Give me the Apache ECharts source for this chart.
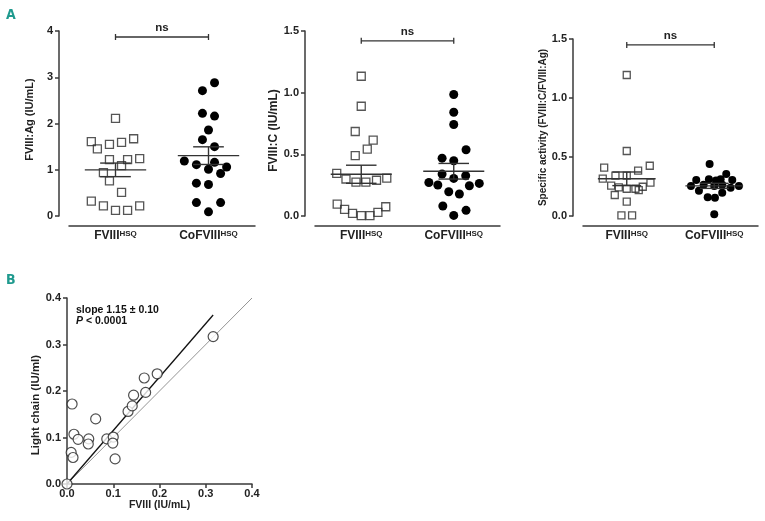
<!DOCTYPE html>
<html><head><meta charset="utf-8">
<script src="https://cdn.jsdelivr.net/npm/echarts@6/dist/echarts.min.js"></script>
<style>html,body{margin:0;padding:0;background:#fff}#c{width:765px;height:521px}</style>
</head><body><div id="c"></div>
<script>
// ---------- data ----------
const groups = ['FVIII', 'CoFVIII'];
const groupSup = 'HSQ';

// Panel A (left): FVIII:Ag (IU/mL)
const agFviii = [2.11,1.61,1.45,1.55,1.59,1.67,1.22,1.22,1.24,1.09,0.94,0.76,0.51,0.32,0.22,0.12,0.12,0.22];
const agFviiiJitter = [0,-0.26,-0.195,-0.065,0.065,0.195,-0.065,0.13,0.26,0.065,-0.13,-0.065,0.065,-0.26,-0.13,0,0.13,0.26];
const agCo = [2.88,2.71,2.22,2.16,1.86,1.65,1.50,1.19,1.11,1.16,1.01,1.06,0.92,0.71,0.68,0.29,0.29,0.09];
const agCoJitter = [0.065,-0.065,-0.065,0.065,0,-0.065,0.065,-0.26,-0.13,0.065,0,0.195,0.13,-0.13,0,-0.13,0.13,0];

// Panel A (middle): FVIII:C (IU/mL)
const cFviii = [1.133,0.89,0.685,0.615,0.542,0.49,0.345,0.30,0.275,0.275,0.29,0.307,0.097,0.054,0.022,0.003,0.003,0.03,0.075];
const cFviiiJitter = [0,0,-0.065,0.129,0.065,-0.065,-0.265,-0.165,-0.057,0.05,0.165,0.276,-0.26,-0.18,-0.094,0,0.094,0.18,0.265];
const cCo = [0.985,0.841,0.742,0.537,0.469,0.448,0.340,0.326,0.305,0.272,0.251,0.264,0.245,0.197,0.178,0.081,0.046,0.005];
const cCoJitter = [0,0,0,0.133,-0.126,0,-0.126,0.129,0,-0.269,-0.172,0.276,0.169,-0.054,0.061,-0.118,0.133,0];

// Panel A (right): Specific activity (FVIII:C/FVIII:Ag)
const saFviii = [1.195,0.551,0.426,0.41,0.384,0.342,0.342,0.316,0.282,0.257,0.248,0.243,0.231,0.231,0.22,0.178,0.121,0.006,0.006];
const saFviiiJitter = [0,0,0.263,-0.258,0.13,-0.129,0,-0.274,0.271,-0.178,0.183,-0.091,0,0.099,0.137,-0.137,0,-0.061,0.061];
const saCo = [0.441,0.356,0.311,0.311,0.305,0.305,0.265,0.265,0.254,0.254,0.254,0.24,0.214,0.197,0.158,0.155,0.014,0.30];
const saCoJitter = [-0.053,0.137,-0.061,0.073,-0.206,0.206,-0.121,0.091,-0.266,0,0.282,0.187,-0.175,0.091,-0.075,0.008,0,0.02];

// Panel B: light chain vs FVIII
const bFviii = [0,0.011,0.009,0.013,0.015,0.024,0.047,0.046,0.062,0.086,0.100,0.099,0.104,0.132,0.141,0.144,0.167,0.170,0.195,0.316];
const bLight = [0,0.172,0.068,0.057,0.107,0.096,0.097,0.086,0.140,0.097,0.101,0.088,0.054,0.156,0.168,0.191,0.228,0.197,0.237,0.317];
const slope = 1.15, slopeErr = 0.10, pText = '< 0.0001';

// ---------- helpers ----------
const FONT = 'Liberation Sans, Arial, Helvetica, sans-serif';
const AX = '#3a3a3a';
function stats(a){const n=a.length;const m=a.reduce((s,v)=>s+v,0)/n;const sd=Math.sqrt(a.reduce((s,v)=>s+(v-m)*(v-m),0)/(n-1));return [m, sd/Math.sqrt(n)];}
function pts(vals, jit, g){return vals.map((v,i)=>[g+jit[i], v]);}

function meanSemRender(params, api){
  const g=api.value(0), m=api.value(1), s=api.value(2);
  const st={stroke:'#333', lineWidth:1.4};
  const L=(p,q)=>({type:'line', shape:{x1:p[0],y1:p[1],x2:q[0],y2:q[1]}, style:st});
  return {type:'group', children:[
    L(api.coord([g-0.33,m]), api.coord([g+0.33,m])),
    L(api.coord([g,m+s]), api.coord([g,m-s])),
    L(api.coord([g-0.165,m+s]), api.coord([g+0.165,m+s])),
    L(api.coord([g-0.165,m-s]), api.coord([g+0.165,m-s]))
  ]};
}
function bracketRender(params, api){
  const y=api.value(2);
  const a=api.coord([api.value(0),y]), b=api.coord([api.value(1),y]);
  const st={stroke:'#333', lineWidth:1.3};
  const L=(p,q)=>({type:'line', shape:{x1:p[0],y1:p[1],x2:q[0],y2:q[1]}, style:st});
  return {type:'group', children:[
    L(a,b), L([a[0],a[1]-3],[a[0],a[1]+3]), L([b[0],b[1]-3],[b[0],b[1]+3]),
    {type:'text', style:{text:'ns', x:(a[0]+b[0])/2, y:a[1]-3, align:'center', verticalAlign:'bottom', fontSize:11.5, fontWeight:'bold', fontFamily:FONT, fill:'#222'}}
  ]};
}
function catAxis(gi){
  return {type:'category', gridIndex:gi, data:groups, offset:10, boundaryGap:true,
    axisLine:{onZero:false, lineStyle:{color:AX,width:1.5}},
    axisTick:{alignWithLabel:true, length:4, lineStyle:{color:AX,width:1.5}},
    axisLabel:{interval:0, hideOverlap:false, margin:4, formatter:v=>'{m|'+v+'}{s|'+groupSup+'}',
      rich:{m:{fontSize:12,fontWeight:'bold',fontFamily:FONT,color:'#222'}, s:{fontSize:8,fontWeight:'bold',fontFamily:FONT,color:'#222',verticalAlign:'top'}}}};
}
function valXAxis(gi){return {type:'value', gridIndex:gi, min:-0.5, max:1.5, show:false, axisLine:{onZero:false}};}
function yAx(gi, max, interval, name, fs, gap, dec, pad){
  return {type:'value', gridIndex:gi, min:0, max:max, interval:interval, offset:gi<3?10:0,
    name:name, nameLocation:'middle', nameGap:gap, nameTextStyle:{fontSize:fs,fontWeight:'bold',fontFamily:FONT,color:'#222',padding:pad||0},
    splitLine:{show:false},
    axisLine:{show:true,onZero:false,lineStyle:{color:AX,width:1.5}},
    axisTick:{show:true,length:4,lineStyle:{color:AX,width:1.5}},
    axisLabel:{fontSize:11,fontWeight:'bold',fontFamily:FONT,color:'#222',margin:6,formatter:v=>v.toFixed(dec)}};
}
function sqSeries(xi, yi, data, size){
  return {type:'scatter', xAxisIndex:xi, yAxisIndex:yi, data:data, symbol:'rect', symbolSize:size,
    itemStyle:{color:'rgba(255,255,255,0)', borderColor:'#2a2a2a', borderWidth:1.3}, z:3};
}
function ciSeries(xi, yi, data, size){
  return {type:'scatter', xAxisIndex:xi, yAxisIndex:yi, data:data, symbol:'circle', symbolSize:size,
    itemStyle:{color:'#000', opacity:1}, z:3};
}
function panelSeries(xi, yi, a, aj, b, bj, size, bracketY){
  const sa=stats(a), sb=stats(b);
  return [
    sqSeries(xi, yi, pts(a,aj,0), size),
    ciSeries(xi, yi, pts(b,bj,1), size+1),
    {type:'custom', xAxisIndex:xi, yAxisIndex:yi, renderItem:meanSemRender, data:[[0,sa[0],sa[1]],[1,sb[0],sb[1]]], z:4, silent:true},
    {type:'custom', xAxisIndex:xi, yAxisIndex:yi, renderItem:bracketRender, data:[[0,1,bracketY]], z:4, silent:true}
  ];
}

const xMaxB = Math.max(...bFviii);
const option = {
  animation:false,
  backgroundColor:'#fff',
  textStyle:{fontFamily:FONT},
  graphic:[
    {type:'text', left:6, top:8, style:{text:'A', fontSize:14, fontWeight:'bold', fontFamily:'DejaVu Sans Condensed, Liberation Sans, sans-serif', fill:'#1f9a8e'}},
    {type:'text', left:6, top:273, style:{text:'B', fontSize:14, fontWeight:'bold', fontFamily:'DejaVu Sans Condensed, Liberation Sans, sans-serif', fill:'#1f9a8e'}}
  ],
  grid:[
    {left:69, top:31, width:186, height:185},
    {left:315, top:31, width:185, height:185},
    {left:583, top:39, width:175, height:177},
    {left:67, top:298, width:185, height:186}
  ],
  xAxis:[
    catAxis(0), valXAxis(0),
    catAxis(1), valXAxis(1),
    catAxis(2), valXAxis(2),
    {type:'value', gridIndex:3, min:0, max:0.4, interval:0.1,
      name:'FVIII (IU/mL)', nameLocation:'middle', nameGap:13, nameTextStyle:{fontSize:10.5,fontWeight:'bold',fontFamily:FONT,color:'#222'},
      splitLine:{show:false}, axisLine:{onZero:false, lineStyle:{color:AX,width:1.5}},
      axisTick:{show:true,length:4,lineStyle:{color:AX,width:1.5}},
      axisLabel:{fontSize:11,fontWeight:'bold',fontFamily:FONT,color:'#222',margin:4,formatter:v=>v.toFixed(1)}}
  ],
  yAxis:[
    yAx(0, 4, 1, 'FVIII:Ag (IU/mL)', 11, 24, 0, [0,0,0,8]),
    yAx(1, 1.5, 0.5, 'FVIII:C (IU/mL)', 12, 24, 1, [0,14,0,0]),
    yAx(2, 1.5, 0.5, 'Specific activity (FVIII:C/FVIII:Ag)', 10, 25, 1),
    yAx(3, 0.4, 0.1, 'Light chain (IU/ml)', 11.5, 24, 1, [0,28,0,0])
  ],
  series:[
    ...panelSeries(1, 0, agFviii, agFviiiJitter, agCo, agCoJitter, 8, 3.87),
    ...panelSeries(3, 1, cFviii, cFviiiJitter, cCo, cCoJitter, 8, 1.42),
    ...panelSeries(5, 2, saFviii, saFviiiJitter, saCo, saCoJitter, 7, 1.45),
    {type:'line', xAxisIndex:6, yAxisIndex:3, data:[[0,0],[0.4,0.4]], showSymbol:false, symbol:'none',
      lineStyle:{color:'#888', width:0.9}, z:2, silent:true},
    {type:'line', xAxisIndex:6, yAxisIndex:3, data:[[0,0],[xMaxB, slope*xMaxB]], showSymbol:false, symbol:'none',
      lineStyle:{color:'#111', width:1.3}, z:2, silent:true},
    {type:'scatter', xAxisIndex:6, yAxisIndex:3, data:bFviii.map((x,i)=>[x,bLight[i]]), symbol:'circle', symbolSize:10,
      itemStyle:{color:'#fff', borderColor:'#222', borderWidth:1.2}, z:3},
    {type:'custom', xAxisIndex:6, yAxisIndex:3, data:[[0.0195, 0.374]], z:5, silent:true,
      renderItem:(params, api)=>{
        const p=api.coord([api.value(0), api.value(1)]);
        const base={fontSize:10.5, fontWeight:'bold', fontFamily:FONT, fill:'#111', align:'left', verticalAlign:'middle'};
        return {type:'group', children:[
          {type:'text', style:Object.assign({text:'slope '+slope.toFixed(2)+' \u00b1 '+slopeErr.toFixed(2), x:p[0], y:p[1]}, base)},
          {type:'text', style:Object.assign({text:'{i|P} '+pText, x:p[0], y:p[1]+11,
            rich:{i:{fontStyle:'italic', fontSize:10.5, fontWeight:'bold', fontFamily:FONT, fill:'#111'}}}, base)}
        ]};
      }}
  ]
};
const chart = echarts.init(document.getElementById('c'), null, {renderer:'canvas'});
chart.setOption(option);
</script>
</body></html>
